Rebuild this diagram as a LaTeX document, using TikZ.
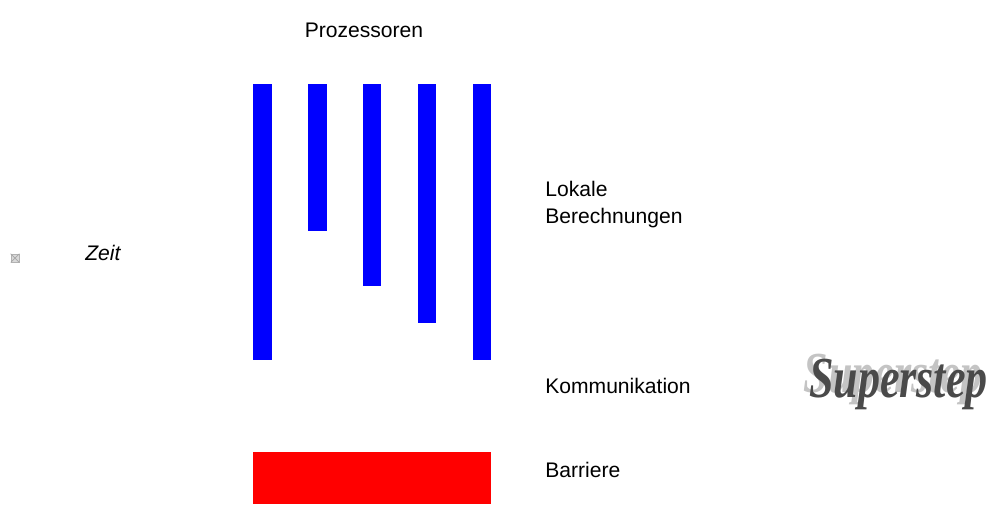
\documentclass[tikz,border=0pt]{standalone}
\usepackage{fontspec}
\setmainfont{Liberation Sans}
\newfontfamily\stepfont{Liberation Serif}
\usetikzlibrary{positioning}
\definecolor{BarBlue}{HTML}{0000FF}
\definecolor{BarrierRed}{HTML}{FF0000}
\definecolor{StepGray}{HTML}{4A4A4A}
\definecolor{ShadowGray}{HTML}{C4C4C4}

% Schriftzug mit hellem Schatten
\newcommand{\stepshadow}[1]{%
  \makebox[0pt][l]{\hspace*{-4pt}\raisebox{3pt}{\color{ShadowGray}#1}}#1}

\begin{document}
\begin{tikzpicture}[
    x=0.02cm, y=-0.02cm,
    font=\fontsize{12}{14}\selectfont,
    proc/.style={fill=BarBlue, inner sep=0pt, anchor=north, minimum width=#1},
    label/.style={anchor=west, align=left, inner sep=0pt},
    stepword/.style={font=\stepfont\bfseries\itshape\fontsize{33}{36}\selectfont, inner sep=0pt, xscale=0.76}
]

  % Rahmen
  \useasboundingbox (0, 0) rectangle (989, 504);

  % Titel
  \node[font=\fontsize{12}{14}\selectfont] (t_proz) at (364, 30) {Prozessoren};

  % =========================================================================
  % PROZESSOREN (LOKALE BERECHNUNGEN)
  % =========================================================================
  \node[proc=0.38cm, minimum height=5.52cm] (p1) at (262.5, 84) {};
  \node[proc=0.38cm, minimum height=2.94cm] (p2) at (317.5, 84) {};
  \node[proc=0.36cm, minimum height=4.04cm] (p3) at (372, 84) {};
  \node[proc=0.36cm, minimum height=4.78cm] (p4) at (427, 84) {};
  \node[proc=0.36cm, minimum height=5.52cm] (p5) at (482, 84) {};

  % Barriere
  \node[fill=BarrierRed, inner sep=0pt, anchor=north, minimum width=4.76cm, minimum height=1.04cm] (barrier) at (372, 452) {};

  % =========================================================================
  % BESCHRIFTUNGEN
  % =========================================================================
  \node[font=\fontsize{12}{14}\selectfont\itshape, anchor=west, inner sep=0pt] (t_zeit) at (85, 253) {Zeit};
  \node[draw=gray!60, fill=gray!30, inner sep=0pt, minimum size=0.16cm] (icon) at (15, 258) {};
  \draw[gray!70, line width=0.4pt] (icon.north west) -- (icon.south east) (icon.north east) -- (icon.south west);

  \node[label] (t_lokal) at (545, 189) {Lokale};
  \node[label] (t_ber) at (545, 218) {Berechnungen};
  \node[label] (t_komm) at (545, 386) {Kommunikation};
  \node[label] (t_barr) at (545, 470) {Barriere};

  % Superstep
  \node[stepword, text=StepGray, anchor=east] (step) at (988, 382) {\stepshadow{Superstep}};

\end{tikzpicture}
\end{document}
